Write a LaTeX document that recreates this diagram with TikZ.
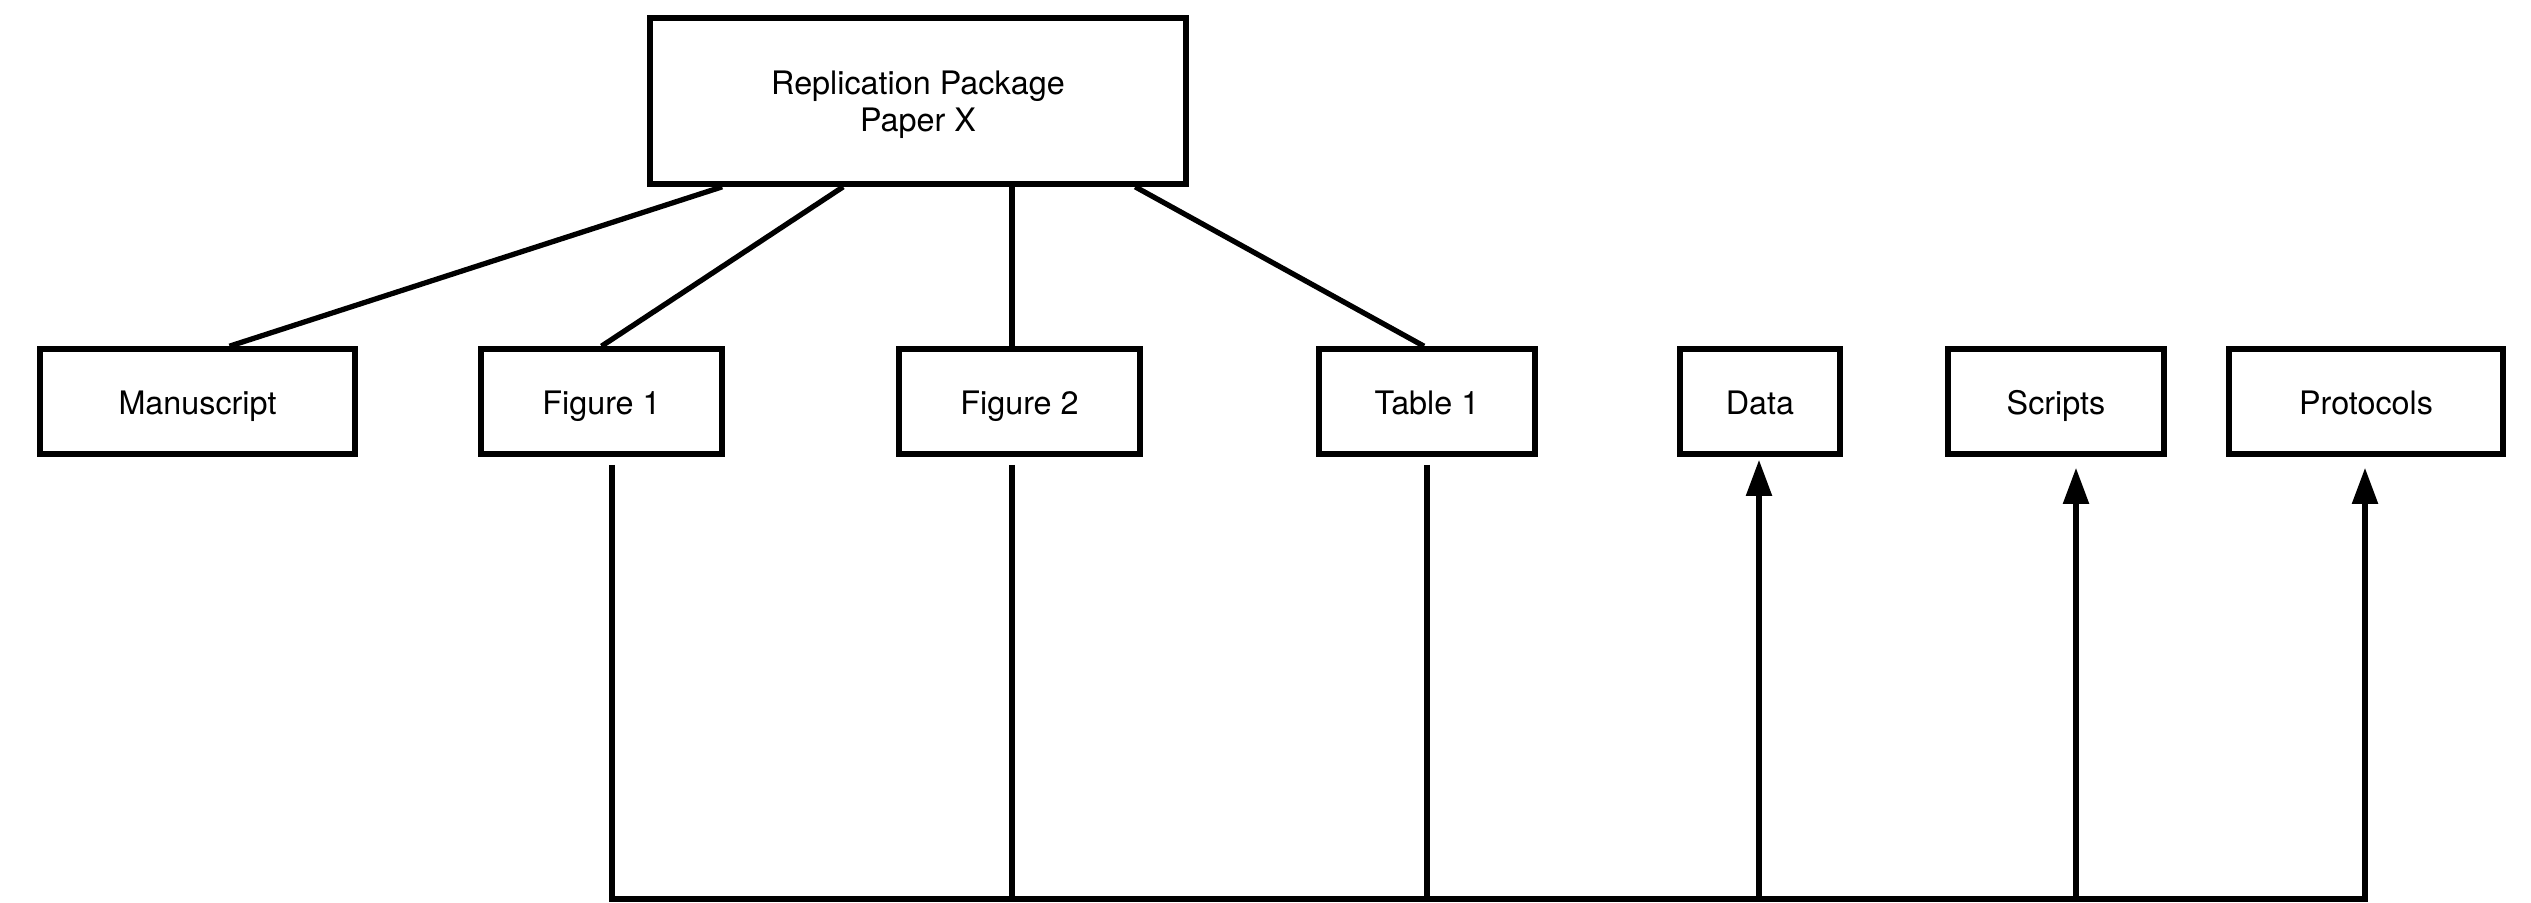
\documentclass[tikz,border=0pt]{standalone}
\usepackage{fontspec}
\setmainfont{TeX Gyre Heros}
\usetikzlibrary{arrows.meta}

\begin{document}
\begin{tikzpicture}[
    box/.style={rectangle,draw,line width=1.6pt,minimum height=1.05cm,
      inner sep=0pt,text height=0.72em,text depth=0pt,
      font=\fontsize{9.2}{10.5}\selectfont},
    link/.style={line width=1.5pt},
    up/.style={link,-{Triangle[width=0.25cm,length=0.36cm]}}
  ]

  \useasboundingbox (0,0) rectangle (25.31,9.02);

  \newcommand{\row}{5.005}

\node (rep) at (9.18, 8.01) [rectangle,draw,line width=1.6pt,
  minimum width=5.36cm,minimum height=1.66cm,inner sep=0pt,
  font=\fontsize{9.2}{10.5}\selectfont,align=center]
  {\rule{0pt}{9pt}Replication Package\\Paper X};

\node (man) at (1.975, \row) [box,minimum width=3.15cm] {Manuscript};
\node (fig1) at (6.015, \row) [box,minimum width=2.41cm] {Figure 1};
\node (fig2) at (10.195, \row) [box,minimum width=2.41cm] {Figure 2};
\node (tab1) at (14.27, \row) [box,minimum width=2.16cm] {Table 1};

\node (data) at (17.60, \row) [box,minimum width=1.60cm] {Data};
\node (scr) at (20.56, \row) [box,minimum width=2.16cm] {Scripts};
\node (prot) at (23.66, \row) [box,minimum width=2.74cm] {Protocols};

%% bottom line
\coordinate (b1) at (6.12, 0.03);
\coordinate (b2) at (10.12, 0.03);
\coordinate (b3) at (14.27, 0.03);
\coordinate (b4) at (17.59, 0.03);
\coordinate (b5) at (20.76, 0.03);
\coordinate (b6) at (23.65, 0.03);

\draw[link] ([xshift=0.75cm]rep.south west) -- ([xshift=0.32cm]man.north);
\draw[link] ([xshift=1.96cm]rep.south west) -- (fig1.north);
\draw[link] (b2 |- rep.south) -- (b2 |- fig2.north);
\draw[link] ([xshift=4.88cm]rep.south west) -- ([xshift=-0.03cm]tab1.north);

\draw[link] ([yshift=-0.08cm]b1 |- fig1.south) -- (b1);
\draw[link] ([yshift=-0.08cm]b2 |- fig2.south) -- (b2);
\draw[link] ([yshift=-0.08cm]b3 |- tab1.south) -- (b3);

\draw[link] ([xshift=-0.75pt]b1) -- ([xshift=0.75pt]b6);

\draw[up] (b4) -- ([yshift=-0.03cm]b4 |- data.south);
\draw[up] (b5) -- ([yshift=-0.11cm]b5 |- scr.south);
\draw[up] (b6) -- ([yshift=-0.11cm]b6 |- prot.south);

\end{tikzpicture}
\end{document}
